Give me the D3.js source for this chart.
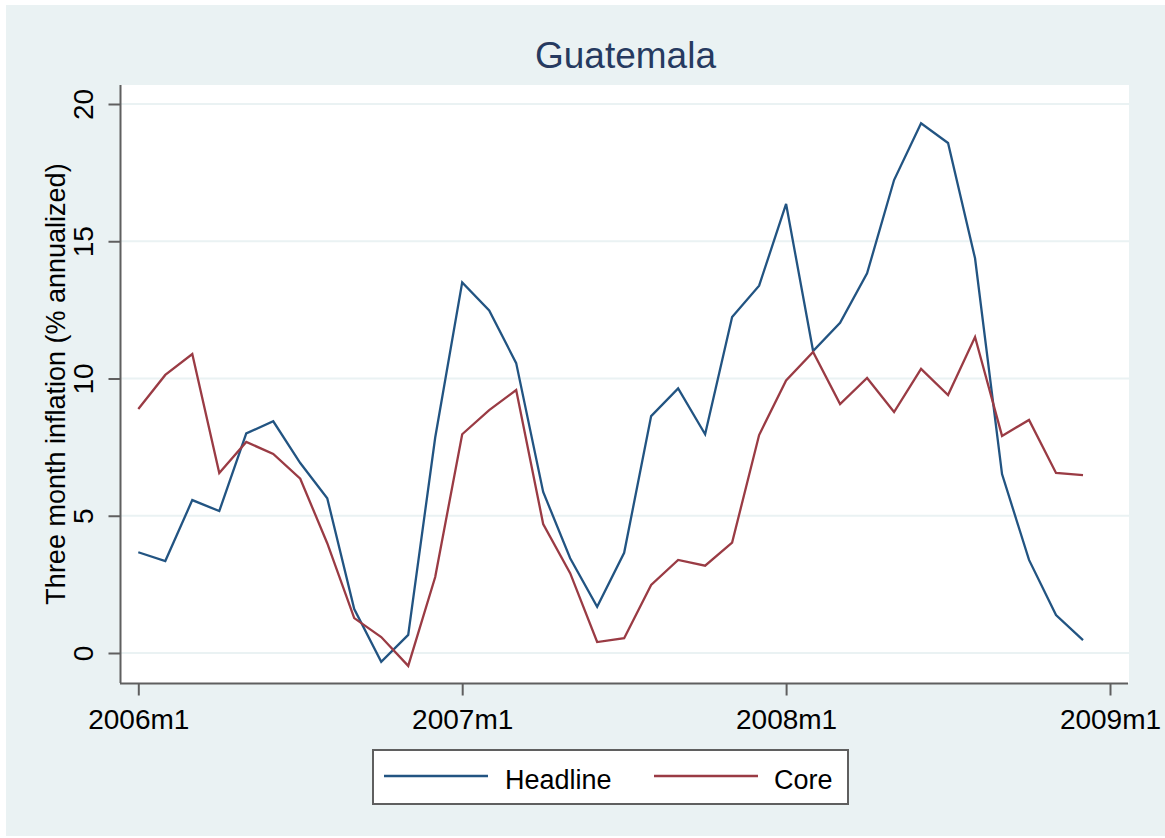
<!DOCTYPE html>
<html>
<head>
<meta charset="utf-8">
<script src="https://cdn.jsdelivr.net/npm/d3@7"></script>
<style>
body { margin: 0; background: #ffffff; }
svg { display: block; font-family: "Liberation Sans", Arial, sans-serif; }
</style>
</head>
<body>
<svg id="svg" width="1165" height="838"></svg>
<script>
// months since 2006m1
var months = d3.range(0, 36);
var headline = [3.67, 3.35, 5.57, 5.17, 8.0, 8.44, 6.92, 5.64, 1.6, -0.32, 0.66, 7.85,
	13.5, 12.48, 10.56, 5.87, 3.45, 1.68, 3.65, 8.63, 9.64, 7.97, 12.24, 13.38,
	16.36, 11.0, 12.03, 13.83, 17.23, 19.3, 18.58, 14.38, 6.52, 3.39, 1.38, 0.47];
var core = [8.89, 10.13, 10.89, 6.56, 7.69, 7.25, 6.35, 4.0, 1.27, 0.58, -0.47, 2.77,
	7.97, 8.85, 9.58, 4.7, 2.91, 0.4, 0.54, 2.48, 3.39, 3.18, 4.02, 7.94,
	9.93, 10.97, 9.07, 10.02, 8.78, 10.35, 9.4, 11.51, 7.91, 8.49, 6.56, 6.48];
var seriesNames = ["Headline", "Core"];
var seriesColors = ["#225482", "#9a3b44"];
var yTicks = [0, 5, 10, 15, 20];
var xTicks = [0, 12, 24, 36];
var xTickLabels = ["2006m1", "2007m1", "2008m1", "2009m1"];

var bgColor = "#eaf2f3";
var axisColor = "#5f5f5f";

draw();

function draw() {
	"use strict"

	var svg = d3.select("#svg");

	// outer graph region
	svg.append("rect")
		.attr("x", 6)
		.attr("y", 5)
		.attr("width", 1165)
		.attr("height", 831)
		.attr("fill", bgColor);

	var left = 120, right = 1129, top = 85, bottom = 683;

	// plot region
	svg.append("rect")
		.attr("x", left)
		.attr("y", top)
		.attr("width", right - left)
		.attr("height", bottom - top)
		.attr("fill", "#ffffff");

	// scales
	var x = d3.scaleLinear()
		.domain([0, 36])
		.range([138.3, 1110]);
	var y = d3.scaleLinear()
		.domain([0, 20])
		.range([653, 104]);

	// grid lines
	svg.append("g").selectAll(".grid").data(yTicks).enter()
		.append("line")
		.attr("class", "grid")
		.attr("x1", left)
		.attr("x2", right)
		.attr("y1", function(d){return y(d);})
		.attr("y2", function(d){return y(d);})
		.attr("stroke", bgColor)
		.attr("stroke-width", 2);

	// y axis
	var yAxis = svg.append("g")
		.attr("transform", "translate(" + (left + 0.5) + ",0)")
		.call(d3.axisLeft(y).tickValues(yTicks).tickSize(12).tickSizeOuter(0).tickPadding(16));
	yAxis.select(".domain").remove();
	yAxis.append("line")
		.attr("x1", 0).attr("x2", 0)
		.attr("y1", top).attr("y2", bottom)
		.attr("stroke", axisColor)
		.attr("stroke-width", 2);
	yAxis.selectAll(".tick line")
		.attr("stroke", axisColor)
		.attr("stroke-width", 2);
	yAxis.selectAll(".tick text")
		.attr("font-size", 28)
		.attr("fill", "#000")
		.attr("font-family", "Liberation Sans, Arial, sans-serif")
		.attr("text-anchor", "middle")
		.attr("x", null)
		.attr("dy", null)
		.attr("transform", "translate(-28,0) rotate(-90)");

	// x axis
	var xAxis = svg.append("g")
		.attr("transform", "translate(0," + (bottom + 0.5) + ")")
		.call(d3.axisBottom(x).tickValues(xTicks).tickSize(12).tickSizeOuter(0).tickPadding(14)
			.tickFormat(function(d, i){return xTickLabels[i];}));
	xAxis.select(".domain").remove();
	xAxis.append("line")
		.attr("x1", left).attr("x2", right - 1)
		.attr("y1", 0).attr("y2", 0)
		.attr("stroke", axisColor)
		.attr("stroke-width", 2);
	xAxis.selectAll(".tick line")
		.attr("stroke", axisColor)
		.attr("stroke-width", 2);
	xAxis.selectAll(".tick text")
		.attr("font-size", 28)
		.attr("fill", "#000")
		.attr("font-family", "Liberation Sans, Arial, sans-serif");

	// y axis title
	svg.append("text")
		.attr("transform", "translate(65," + ((top + bottom) / 2) + ") rotate(-90)")
		.attr("text-anchor", "middle")
		.attr("font-size", 27)
		.attr("fill", "#000")
		.text("Three month inflation (% annualized)");

	// title
	svg.append("text")
		.attr("x", (left + right) / 2 + 1)
		.attr("y", 68)
		.attr("text-anchor", "middle")
		.attr("font-size", 37)
		.attr("fill", "#263a60")
		.text("Guatemala");

	// lines
	var line = d3.line()
		.x(function(d){return x(d[0]);})
		.y(function(d){return y(d[1]);});
	var data = [headline, core];
	svg.append("g").selectAll(".series").data(data).enter()
		.append("path")
		.attr("class", "series")
		.attr("d", function(d){return line(d3.zip(months, d));})
		.attr("fill", "none")
		.attr("stroke", function(d, i){return seriesColors[i];})
		.attr("stroke-width", 2.3)
		.attr("stroke-linejoin", "miter");

	// legend
	var legend = svg.append("g");
	legend.append("rect")
		.attr("x", 373)
		.attr("y", 750)
		.attr("width", 475)
		.attr("height", 54)
		.attr("fill", "#ffffff")
		.attr("stroke", axisColor)
		.attr("stroke-width", 2);
	var keyX = [384, 654];
	var items = legend.selectAll(".key").data(seriesNames).enter()
		.append("g")
		.attr("class", "key")
		.attr("transform", function(d, i){return "translate(" + keyX[i] + ",776)";});
	items.append("line")
		.attr("x1", 0).attr("x2", 104)
		.attr("y1", 0).attr("y2", 0)
		.attr("stroke", function(d, i){return seriesColors[i];})
		.attr("stroke-width", 2.3);
	items.append("text")
		.attr("x", function(d, i){return i == 0 ? 121 : 120;})
		.attr("y", 13)
		.attr("font-size", 27)
		.attr("fill", "#000")
		.text(function(d){return d;});
}
</script>
</body>
</html>
